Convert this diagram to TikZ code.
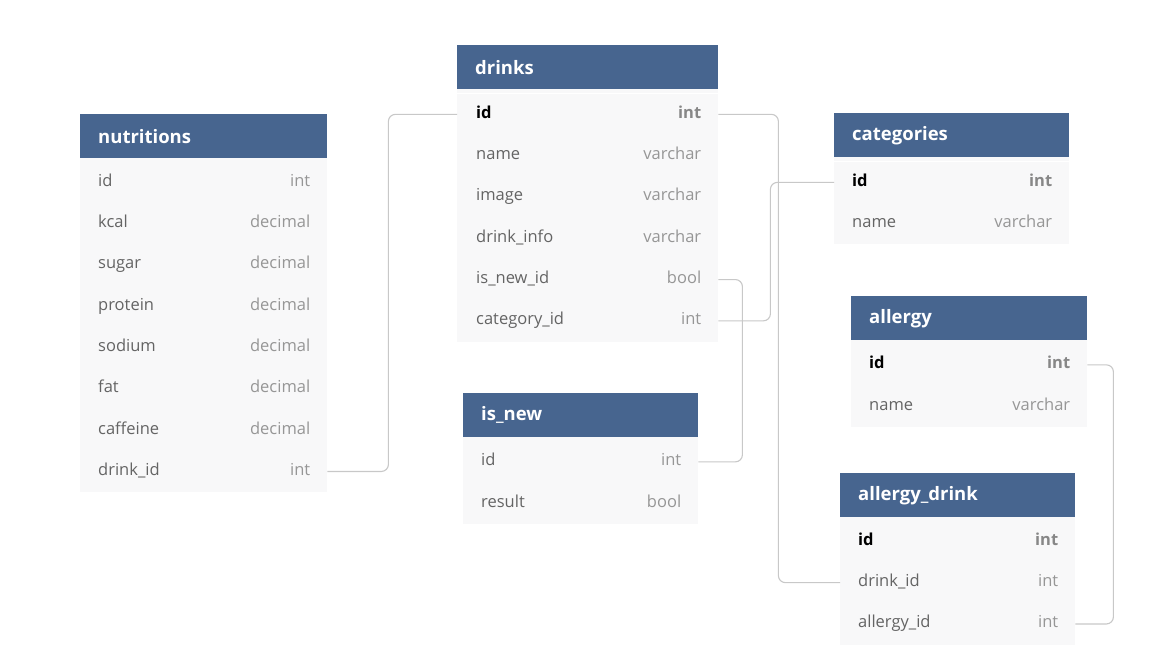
\documentclass[tikz,border=0pt]{standalone}
\usepackage{fontspec}
\setmainfont{Open Sans}
\usetikzlibrary{positioning}

\definecolor{headblue}{RGB}{71,101,143}
\definecolor{rowgray}{RGB}{248,248,249}
\definecolor{linkgray}{RGB}{200,200,200}
\definecolor{fieldgray}{RGB}{100,100,100}
\definecolor{typegray}{RGB}{150,150,150}

\tikzset{
  tblhead/.style = {anchor=north west, fill=headblue, text=white, font=\fontsize{18.5}{22}\selectfont\bfseries, minimum height=44pt, inner xsep=18pt, inner ysep=0pt, align=left},
  tblrow/.style = {anchor=north west, fill=rowgray, minimum height=41.3pt, inner sep=0pt},
  tblpad/.style = {fill=rowgray},
  fieldtext/.style = {inner sep=0pt, text height=12pt, text depth=4pt, text=fieldgray, font=\fontsize{16.5}{20}\selectfont},
  typetext/.style = {inner sep=0pt, text height=12pt, text depth=4pt, text=typegray, font=\fontsize{16.5}{20}\selectfont},
  pk/.style = {text=black, font=\fontsize{16.5}{20}\selectfont\bfseries},
  pk type/.style = {text=typegray!90!black, font=\fontsize{16.5}{20}\selectfont\bfseries},
  fd/.style = {},
  fd type/.style = {},
  link/.style = {draw=linkgray, line width=1.1pt, rounded corners=7pt}
}

\begin{document}
\begin{tikzpicture}[x=1pt, y=-1pt]
  \useasboundingbox[fill=white] (0,0) rectangle (1175,670);

  % nutritions
  \node[tblhead, text width=211pt] (nutritions) at (80,114) {nutritions};
  \fill[tblpad] (nutritions.south west) rectangle ++(247,4);
  \foreach \fld/\typ/\k [count=\i] in {id/int/fd, kcal/decimal/fd, sugar/decimal/fd, protein/decimal/fd, sodium/decimal/fd, fat/decimal/fd, caffeine/decimal/fd, drink\_id/int/fd}
  {
    \node[tblrow, minimum width=247pt] (nutritions-\i) at (80,{161.5+(\i-1)*41.3}) {};
    \node[fieldtext, \k, right=18pt of nutritions-\i.west] {\fld};
    \node[typetext, \k\space type, left=17pt of nutritions-\i.east] {\typ};
  }

  % drinks
  \node[tblhead, text width=225pt] (drinks) at (457,45) {drinks};
  \fill[tblpad] (drinks.south west) rectangle ++(261,4);
  \foreach \fld/\typ/\k [count=\i] in {id/int/pk, name/varchar/fd, image/varchar/fd, drink\_info/varchar/fd, is\_new\_id/bool/fd, category\_id/int/fd}
  {
    \node[tblrow, minimum width=261pt] (drinks-\i) at (457,{93.5+(\i-1)*41.3}) {};
    \node[fieldtext, \k, right=19pt of drinks-\i.west] {\fld};
    \node[typetext, \k\space type, left=17pt of drinks-\i.east] {\typ};
  }

  % categories
  \node[tblhead, text width=199pt] (categories) at (834,113) {categories};
  \fill[tblpad] (categories.south west) rectangle ++(235,4);
  \foreach \fld/\typ/\k [count=\i] in {id/int/pk, name/varchar/fd}
  {
    \node[tblrow, minimum width=235pt] (categories-\i) at (834,{161.5+(\i-1)*41.3}) {};
    \node[fieldtext, \k, right=18pt of categories-\i.west] {\fld};
    \node[typetext, \k\space type, left=17pt of categories-\i.east] {\typ};
  }

  % allergy
  \node[tblhead, text width=200pt] (allergy) at (851,296) {allergy};
  \fill[tblpad] (allergy.south west) rectangle ++(236,4);
  \foreach \fld/\typ/\k [count=\i] in {id/int/pk, name/varchar/fd}
  {
    \node[tblrow, minimum width=236pt] (allergy-\i) at (851,{344+(\i-1)*41.3}) {};
    \node[fieldtext, \k, right=18pt of allergy-\i.west] {\fld};
    \node[typetext, \k\space type, left=17pt of allergy-\i.east] {\typ};
  }

  % is_new
  \node[tblhead, text width=199pt] (isnew) at (463,393) {is\_new};
  \fill[tblpad] (isnew.south west) rectangle ++(235,4);
  \foreach \fld/\typ/\k [count=\i] in {id/int/fd, result/bool/fd}
  {
    \node[tblrow, minimum width=235pt] (isnew-\i) at (463,{441+(\i-1)*41.3}) {};
    \node[fieldtext, \k, right=18pt of isnew-\i.west] {\fld};
    \node[typetext, \k\space type, left=17pt of isnew-\i.east] {\typ};
  }

  % allergy_drink
  \node[tblhead, text width=199pt] (allergydrink) at (840,473) {allergy\_drink};
  \fill[tblpad] (allergydrink.south west) rectangle ++(235,4);
  \foreach \fld/\typ/\k [count=\i] in {id/int/pk, drink\_id/int/fd, allergy\_id/int/fd}
  {
    \node[tblrow, minimum width=235pt] (allergydrink-\i) at (840,{520.5+(\i-1)*41.3}) {};
    \node[fieldtext, \k, right=18pt of allergydrink-\i.west] {\fld};
    \node[typetext, \k\space type, left=17pt of allergydrink-\i.east] {\typ};
  }

  % relations
  \draw[link] (nutritions-8.east) -- ++(61,0) |- (drinks-1.west);
  \draw[link] (drinks-1.east) -- ++(60,0) |- (allergydrink-2.west);
  \draw[link] (drinks-5.east) -- ++(24,0) |- (isnew-1.east);
  \draw[link] (drinks-6.east) -- ++(52,0) |- (categories-1.west);
  \draw[link] (allergy-1.east) -- ++(26,0) |- (allergydrink-3.east);
\end{tikzpicture}
\end{document}
